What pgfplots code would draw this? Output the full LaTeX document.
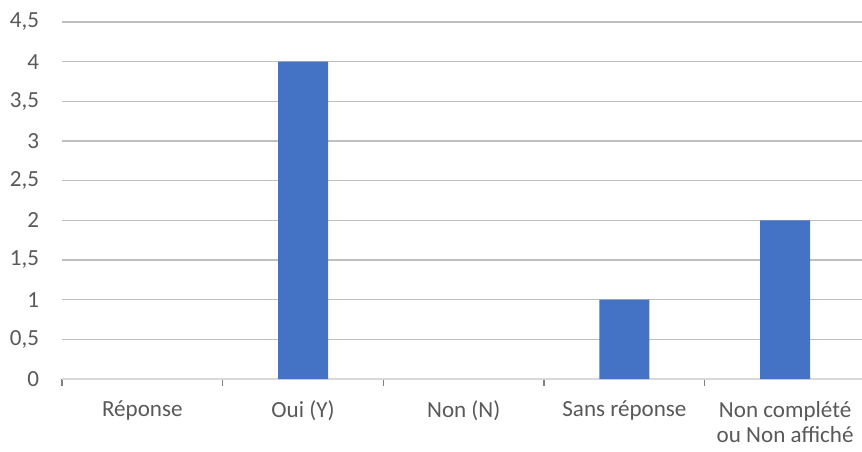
\documentclass[border=0pt]{standalone}
\usepackage{pgfplots}
\pgfplotsset{compat=1.18}
\usepackage{fontspec}
\setmainfont{Carlito}
\definecolor{txt}{HTML}{595959}
\definecolor{grid}{HTML}{D9D9D9}
\definecolor{bar}{HTML}{4472C4}
\begin{document}
\begin{tikzpicture}
\begin{axis}[
  scale only axis,
  width=602.6pt, height=267.75pt,
  xmin=-0.5, xmax=4.5,
  ymin=0, ymax=4.5,
  ytick={0,0.5,...,4.5},
  xtick={0,1,2,3,4},
  xticklabels={Réponse, Oui (Y), Non (N), Sans réponse, {Non complété\\ou Non affiché}},
  minor xtick={-0.5,0.5,1.5,2.5,3.5,4.5},
  major tick length=0pt,
  minor tick length=5.25pt,
  tick align=outside,
  minor tick style={grid, line width=0.9pt},
  ymajorgrids, xmajorgrids=false,
  major grid style={grid, line width=0.9pt},
  axis x line*=bottom,
  axis y line*=left,
  y axis line style={draw=none},
  x axis line style={grid, line width=0.9pt, -},
  tick label style={font=\fontsize{17.3}{18.75}\selectfont, text=txt},
  x tick label style={align=center, anchor=north, yshift=-13pt},
  y tick label style={xshift=-13.75pt},
  /pgf/number format/use comma,
  /pgf/number format/assume math mode=true,
  ybar, bar width=37.5pt,
  clip=false,
]
\addplot[fill=bar, draw=none] coordinates {(1,4) (3,1) (4,2)};
\end{axis}
\pgfresetboundingbox
\path[use as bounding box] (current axis.south west) ++(-46.5pt,-54.75pt) rectangle ++(646.5pt,339pt);
\end{tikzpicture}
\end{document}
